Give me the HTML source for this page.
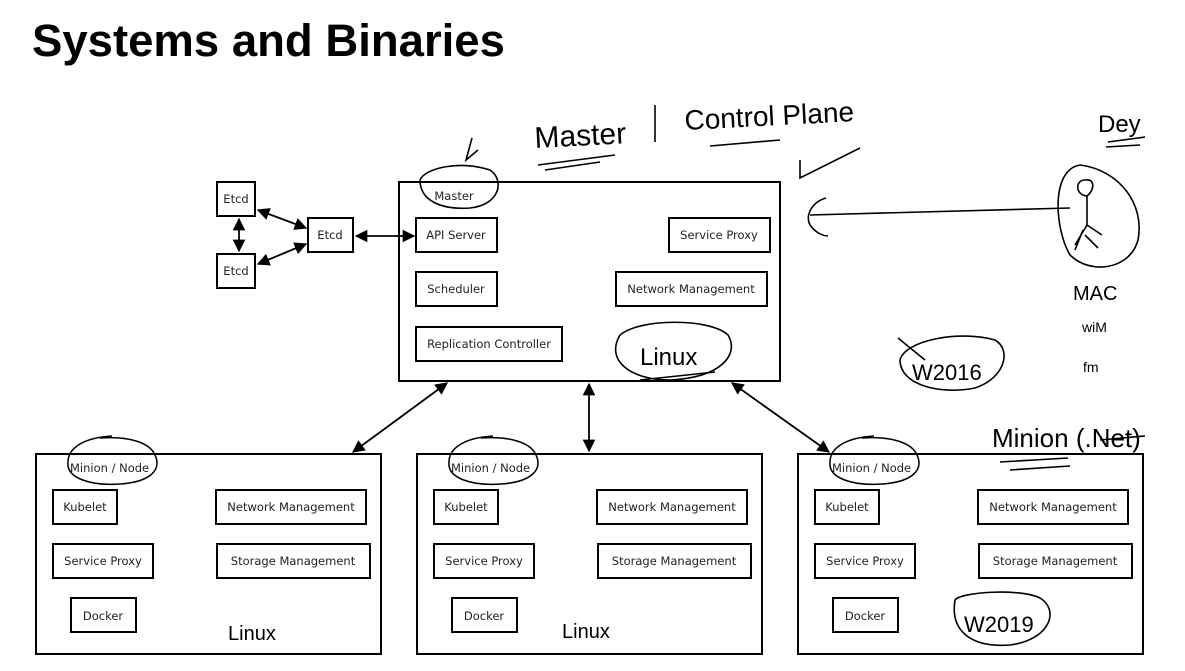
<!DOCTYPE html>
<html><head><meta charset="utf-8"><style>
html,body{margin:0;padding:0;background:#fff;width:1185px;height:671px;overflow:hidden}
svg{display:block}
.t{font-family:"DejaVu Sans","Liberation Sans",sans-serif;font-size:11.5px;fill:#222}
.h{font-family:"Liberation Sans",sans-serif;fill:none;stroke:#000}
.hw{font-family:"Liberation Sans",sans-serif;font-size:26px;fill:#000;font-weight:normal}
</style></head><body>
<svg width="1185" height="671" viewBox="0 0 1185 671" xmlns="http://www.w3.org/2000/svg">
<defs>
<marker id="a" viewBox="0 0 10 10" refX="9" refY="5" markerWidth="7" markerHeight="7" orient="auto-start-reverse"><path d="M0,0 L10,5 L0,10 z" fill="#000"/></marker>
</defs>
<text x="32" y="56" font-family="Liberation Sans,sans-serif" font-weight="bold" font-size="45.5" fill="#000">Systems and Binaries</text>
<g fill="#fff" stroke="#000" stroke-width="2">
<rect x="399" y="182" width="381" height="199"/>
<rect x="217" y="182" width="38" height="34"/>
<rect x="217" y="254" width="38" height="34"/>
<rect x="308" y="218" width="45" height="34"/>
<rect x="416" y="218" width="81" height="34"/>
<rect x="669" y="218" width="101" height="34"/>
<rect x="416" y="272" width="81" height="34"/>
<rect x="616" y="272" width="151" height="34"/>
<rect x="416" y="327" width="146" height="34"/>
</g>
<g class="t" text-anchor="middle">
<text x="236" y="203">Etcd</text><text x="236" y="275">Etcd</text><text x="330" y="239">Etcd</text>
<text x="456" y="239">API Server</text><text x="719" y="239">Service Proxy</text>
<text x="456" y="293">Scheduler</text><text x="691" y="293">Network Management</text>
<text x="489" y="348">Replication Controller</text>
<text x="454" y="200">Master</text>
</g>
<g id="n">
<g fill="#fff" stroke="#000" stroke-width="2">
<rect x="36" y="454" width="345" height="200"/>
<rect x="53" y="490" width="64" height="34"/>
<rect x="216" y="490" width="150" height="34"/>
<rect x="53" y="544" width="100" height="34"/>
<rect x="217" y="544" width="153" height="34"/>
<rect x="71" y="598" width="65" height="34"/>
</g>
<g class="t" text-anchor="middle">
<text x="85" y="511">Kubelet</text><text x="291" y="511">Network Management</text>
<text x="103" y="565">Service Proxy</text><text x="293" y="565">Storage Management</text>
<text x="103" y="620">Docker</text>
</g>
<text class="t" x="70" y="472">Minion / Node</text>
<path class="h" stroke-width="1.5" d="M112,436 C80,438 68,450 68,462 C66,478 90,486 120,484 C150,482 162,470 155,455 C150,443 130,436 100,438"/>
</g>
<use href="#n" x="381"/>
<use href="#n" x="762"/>
<g stroke="#000" stroke-width="1.8" marker-start="url(#a)" marker-end="url(#a)">
<line x1="258" y1="210" x2="306" y2="228"/>
<line x1="258" y1="264" x2="306" y2="244"/>
<line x1="239" y1="219" x2="239" y2="251"/>
<line x1="356" y1="236" x2="414" y2="236"/>
<line x1="353" y1="452" x2="447" y2="383"/>
<line x1="589" y1="384" x2="589" y2="451"/>
<line x1="732" y1="383" x2="829" y2="452"/>
</g>
<g class="h" stroke-width="1.6">
<path d="M420,180 C425,168 460,160 490,170 C505,180 500,205 470,208 C440,210 420,200 420,180"/>
<path d="M620,335 C640,318 710,318 728,335 C740,355 720,378 670,380 C630,380 605,360 620,335"/>
<path d="M640,380 L715,372"/>
<path d="M472,138 L466,160 L478,150"/>
<path d="M538,165 L615,155 M545,170 L600,162"/>
<path d="M655,105 L655,142"/>
<path d="M710,146 L780,140 M800,160 L800,178 L860,148"/>
<path d="M826,198 C812,202 805,215 810,225 C815,232 822,236 828,236 M810,215 L1070,208"/>
<path d="M1080,165 C1050,170 1055,230 1070,255 C1090,275 1130,270 1138,240 C1145,205 1120,170 1080,165"/>
<path d="M1085,180 C1075,180 1075,195 1087,196 C1095,190 1095,178 1085,180 M1087,196 L1087,225 L1075,245 M1087,225 L1102,235 M1083,230 L1075,250 M1085,235 L1098,248"/>
<path d="M1108,142 L1145,137 M1106,147 L1140,145"/>
<path d="M900,360 C905,340 960,330 995,340 C1012,350 1005,378 975,388 C940,395 900,385 900,360 M898,338 L925,360"/>
<path d="M955,600 C960,592 1020,588 1040,598 C1060,610 1050,640 1010,645 C970,648 950,630 955,600"/>
<path d="M1000,462 L1068,458 M1010,470 L1070,466 M1100,440 L1145,436"/>
</g>
<g class="hw">
<text x="535" y="148" font-size="30" transform="rotate(-3 535 148)">Master</text>
<text x="685" y="130" font-size="28" transform="rotate(-3 685 130)">Control Plane</text>
<text x="1098" y="132" font-size="24">Dey</text>
<text x="1073" y="300" font-size="20">MAC</text>
<text x="1082" y="332" font-size="14">wiM</text>
<text x="1083" y="372" font-size="14">fm</text>
<text x="912" y="380" font-size="22">W2016</text>
<text x="992" y="447" font-size="26">Minion (.Net)</text>
<text x="640" y="365" font-size="24">Linux</text>
<text x="228" y="640" font-size="20">Linux</text>
<text x="562" y="638" font-size="20">Linux</text>
<text x="964" y="632" font-size="22">W2019</text>
</g>
</svg>
</body></html>
